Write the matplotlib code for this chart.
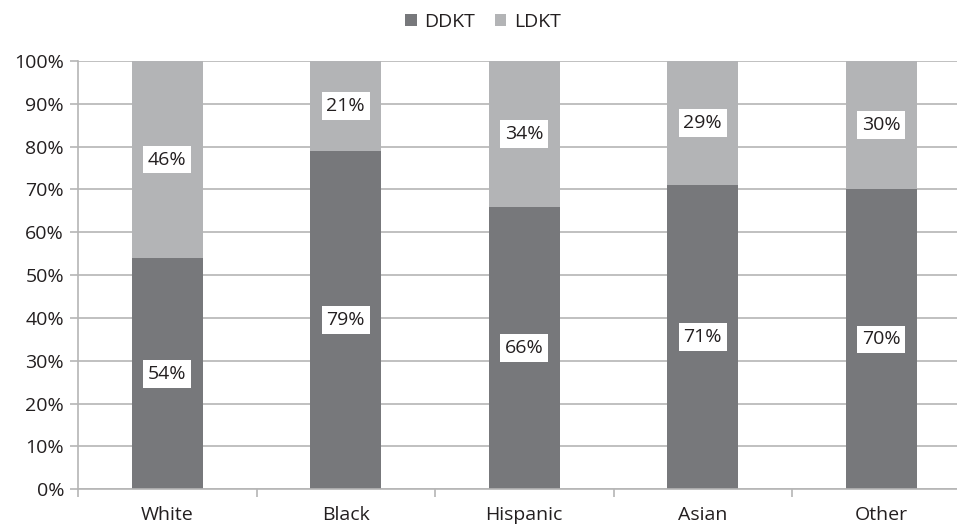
import matplotlib
matplotlib.use("Agg")
import matplotlib.pyplot as plt
import numpy as np
from matplotlib.ticker import FixedLocator

categories = ["White", "Black", "Hispanic", "Asian", "Other"]
ddkt = [54, 79, 66, 71, 70]
ldkt = [46, 21, 34, 29, 30]
series_names = ["DDKT", "LDKT"]
yticks = [0, 10, 20, 30, 40, 50, 60, 70, 80, 90, 100]

plt.rcParams['font.family'] = ['Open Sans', 'DejaVu Sans']
txt = '#231f20'
c_dd = '#77787b'
c_ld = '#b3b4b6'
grid_c = '#b5b5b5'
fs = 14

fig = plt.figure(figsize=(9.57, 5.25), dpi=100)
W, H = 957, 525
ax = fig.add_axes([78 / W, (525 - 489.3) / H, 892.5 / W, 428.3 / H])

x = np.arange(len(categories))
b1 = ax.bar(x, ddkt, width=0.4, color=c_dd, zorder=2, label=series_names[0])
b2 = ax.bar(x, ldkt, width=0.4, bottom=ddkt, color=c_ld, zorder=2, label=series_names[1])

ax.set_xlim(-0.5, len(categories) - 0.5)
ax.set_ylim(0, 100)
ax.set_yticks(yticks)
ax.set_yticklabels([f"{v}%" for v in yticks], fontsize=fs, color=txt)
ax.yaxis.grid(True, color=grid_c, linewidth=1.2, zorder=0)
ax.set_axisbelow(True)

ax.set_xticks(x)
ax.set_xticklabels(categories, fontsize=fs, color=txt)
ax.tick_params(axis='x', which='major', length=0, pad=12)
ax.xaxis.set_minor_locator(FixedLocator(np.arange(-0.5, len(categories), 1.0)))
ax.tick_params(axis='x', which='minor', length=6, color=grid_c, width=1.2)
ax.tick_params(axis='y', length=6, color=grid_c, width=1.2, pad=4)

for s in ['top', 'right']:
    ax.spines[s].set_visible(False)
ax.spines['left'].set_color(grid_c)
ax.spines['left'].set_linewidth(1.2)
ax.spines['bottom'].set_color(grid_c)
ax.spines['bottom'].set_linewidth(1.2)

for i in range(len(categories)):
    for val, base in ((ddkt[i], 0), (ldkt[i], ddkt[i])):
        ax.text(x[i], base + val / 2, f"{val}%", ha='center', va='center',
                fontsize=fs, color=txt, zorder=4,
                bbox=dict(boxstyle='square,pad=0.25', fc='white', ec='none'))

fig.legend(handles=[b1, b2], labels=series_names, loc='center',
           bbox_to_anchor=(483 / W, 1 - 22 / H), ncol=2, frameon=False,
           fontsize=fs, handlelength=0.6, handleheight=0.6,
           handletextpad=0.4, columnspacing=1.0, labelcolor=txt)

fig.savefig("out.png", dpi=100)
